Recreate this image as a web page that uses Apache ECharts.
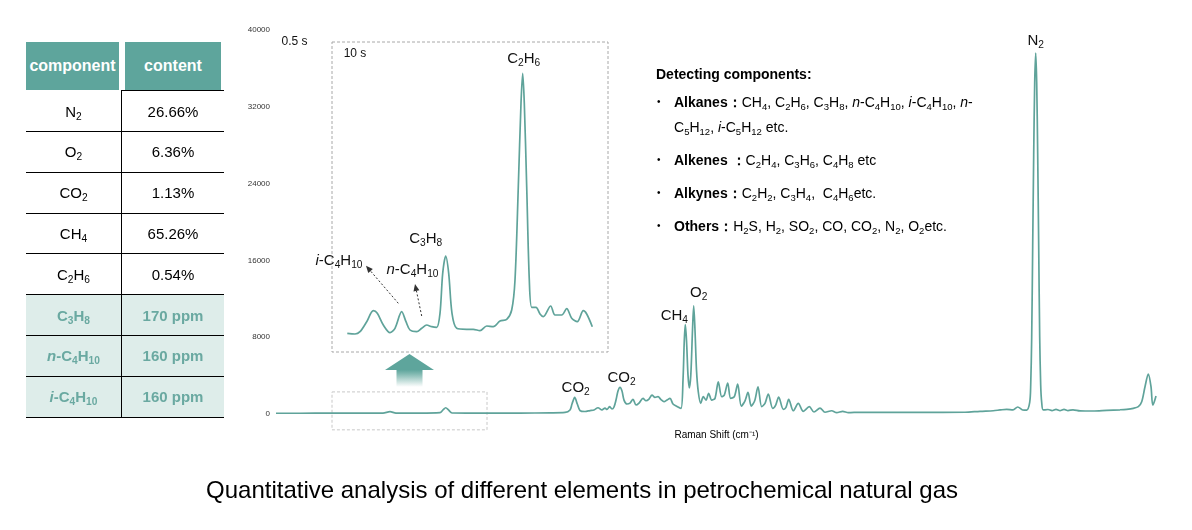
<!DOCTYPE html>
<html>
<head>
<meta charset="utf-8">
<script src="https://cdn.jsdelivr.net/npm/echarts/dist/echarts.min.js"></script>
<style>
  body { margin: 0; background: #fff; font-family: "Liberation Sans", Arial, sans-serif; }
  #wrap { position: relative; width: 1192px; height: 530px; overflow: hidden; background: #fff; }
  #chart { position: absolute; left: 0; top: 0; width: 1192px; height: 530px; }
  sub { font-size: 0.68em; vertical-align: -0.32em; line-height: 0; }
  .lbl { position: absolute; white-space: nowrap; transform: translate(-50%, -50%); font-size: 15px; color: #111; line-height: 1; }
  .small { font-size: 12px; }
  /* table */
  .th { position: absolute; top: 42px; height: 48px; background: #5ea59c; color: #fff; font-weight: bold; font-size: 16px;
        display: flex; align-items: center; justify-content: center; }
  .row { position: absolute; left: 26px; width: 198px; height: 40px; border-bottom: 1px solid #000; }
  .row.hl { background: #deedea; }
  .cell { position: absolute; top: 0; height: 40px; display: flex; align-items: center; justify-content: center; font-size: 15px; color: #000; }
  .cell span { white-space: nowrap; }
  .row.hl .cell { color: #6aa9a1; font-weight: bold; }
  .vdiv { position: absolute; left: 121px; top: 90px; width: 1px; height: 327px; background: #000; }
  /* detecting block */
  #detect { position: absolute; left: 656px; top: 64px; font-size: 14px; color: #000; }
  #detect .ttl { font-weight: bold; line-height: 20px; }
  #detect ul { list-style: none; margin: 6px 0 0 0; padding: 0; }
  #detect li { position: relative; padding-left: 18px; line-height: 24.6px; margin-bottom: 8.5px; white-space: nowrap; }
  #detect li::before { content: "\2022"; position: absolute; left: 1px; top: 0; font-size: 10px; }
  #title { position: absolute; left: 0; width: 1164px; top: 476px; text-align: center; font-size: 24px; color: #000; line-height: 28px; }
</style>
</head>
<body>
<div id="wrap">
  <div id="chart"></div>
</div>
<script>
// ---------------- DATA ----------------
// 0.5 s spectrum: [Raman shift (relative units), intensity]
const mainSpectrum = [
  [0,80],[24,80],[54,100],[84,100],[107,100],[114,240],[120,100],[144,100],[164,150],[167,420],[169.7,650],[172.5,420],[176,110],
  [204,100],[244,100],[274,120],[289,160],[294,420],[296,1040],[298.7,1735],[301.3,1040],[304,360],[309,260],[314,360],[318,420],
  [322,650],[326,420],[329,620],[331,470],[333.5,760],[336,520],[338,730],[340,1450],[342,2390],[344,2770],[346,2390],[348,1450],
  [351,1040],[354,1140],[357,1530],[360,935],[363,1140],[367,1630],[370,1380],[373,1560],[376,1970],[379,1735],[382,1800],[385,1500],
  [388,1280],[391,1450],[394,1630],[397,1040],[401,780],[405,590],[407,3530],[408.3,7690],[409.3,9320],[410.5,7690],[412,4050],
  [413.3,2720],[414.8,4050],[416.5,8730],[417.7,11270],[419,8730],[420.5,4570],[422.3,2290],[424.7,1110],[427.3,1800],[430,1450],
  [432.7,2150],[435.7,1450],[439,1630],[442.3,3360],[445.7,1800],[448.3,1970],[451.7,3230],[454.7,1630],[458.3,1800],[461.7,3120],
  [465.3,830],[469,1380],[472,2250],[475.3,830],[478.7,1380],[482,2840],[485.7,760],[489,1110],[492.3,2080],[496.7,590],[499.7,935],
  [502.7,1770],[507.3,490],[510,700],[512.7,1530],[517.3,340],[522.3,1110],[527.3,280],[533.3,760],[538,210],[544,620],[549,180],
  [555.7,340],[560.7,140],[566.7,280],[572.3,140],[584,180],[604,160],[644,160],[689,180],[704,280],[717.3,340],[724,420],[730.7,490],
  [737,420],[741.7,730],[746.7,420],[750.7,400],[753.7,1200],[754.7,3000],[755.7,8000],[756.7,17500],[757.7,27000],[758.7,34500],
  [759.7,37600],[760.7,34500],[761.7,27000],[762.7,17500],[763.7,8000],[764.7,3000],[765.7,1200],[767.2,420],[772,470],[776,360],
  [780,490],[784,360],[788,490],[792,360],[797,440],[804,330],[817,310],[830.7,380],[844,440],[850.7,490],[857.3,590],[862.3,760],
  [865.7,1280],[869,2840],[872.3,4160],[875,2840],[876.7,935],[878.3,1280],[880,1870]
];
// 10 s spectrum (zoomed region): [relative shift, intensity]
const insetSpectrum = [
  [15.3,3740],[23,3600],[28,4060],[34.7,6060],[41.3,8260],[45.3,7740],[51.3,5400],[58,3860],[63,4740],[69.7,8060],[74,6060],
  [78,4400],[84.7,4060],[89.7,4740],[94.7,5400],[99.7,5060],[104.7,4940],[108,7740],[110.7,15740],[113.7,19200],[116.7,15740],
  [120,7740],[124.7,4740],[134.7,4540],[141.3,4540],[148,4260],[154.7,5200],[161.3,5060],[168,6200],[174.7,6540],[179.7,8400],
  [183,14400],[186.3,33060],[189,49740],[190.7,55740],[192.3,49740],[194.7,33060],[197.3,14400],[199.7,8940],[204,8940],[208,7600],
  [211.3,7060],[218.7,9200],[223,7400],[229.7,7400],[234.7,8660],[239.7,6740],[245.3,6060],[251.3,8260],[254.7,7600],[260.3,5060]
];
const yTicks = [0, 8000, 16000, 24000, 32000, 40000];
const zoomRange = [56, 211];      // region of the 0.5 s spectrum shown in the inset

const tableHeader = ['component', 'content'];
const componentNames = ['N<sub>2</sub>', 'O<sub>2</sub>', 'CO<sub>2</sub>', 'CH<sub>4</sub>', 'C<sub>2</sub>H<sub>6</sub>',
  'C<sub>3</sub>H<sub>8</sub>', '<i>n</i>-C<sub>4</sub>H<sub>10</sub>', '<i>i</i>-C<sub>4</sub>H<sub>10</sub>'];
const componentContents = ['26.66%', '6.36%', '1.13%', '65.26%', '0.54%', '170 ppm', '160 ppm', '160 ppm'];
const traceComponent = [false, false, false, false, false, true, true, true];

const detectTitle = 'Detecting components:';
const detectGroups = ['Alkanes：', 'Alkenes ：', 'Alkynes：', 'Others：'];
const detectMembers = [
  'CH<sub>4</sub>, C<sub>2</sub>H<sub>6</sub>, C<sub>3</sub>H<sub>8</sub>, <i>n</i>-C<sub>4</sub>H<sub>10</sub>, <i>i</i>-C<sub>4</sub>H<sub>10</sub>, <i>n</i>-<br>C<sub>5</sub>H<sub>12</sub>, <i>i</i>-C<sub>5</sub>H<sub>12</sub> etc.',
  'C<sub>2</sub>H<sub>4</sub>, C<sub>3</sub>H<sub>6</sub>, C<sub>4</sub>H<sub>8</sub> etc',
  'C<sub>2</sub>H<sub>2</sub>, C<sub>3</sub>H<sub>4</sub>,&nbsp; C<sub>4</sub>H<sub>6</sub>etc.',
  'H<sub>2</sub>S, H<sub>2</sub>, SO<sub>2</sub>, CO, CO<sub>2</sub>, N<sub>2</sub>, O<sub>2</sub>etc.'
];
const chartTitle = 'Quantitative analysis of different elements in petrochemical natural gas';
const xAxisName = 'Raman Shift (cm⁻¹)';
const mainExposure = '0.5 s';
const insetExposure = '10 s';
const peakLabels = [
  { html: 'N<sub>2</sub>', grid: 0, at: [759.7, 37600], dx: 0, dy: -14 },
  { html: 'O<sub>2</sub>', grid: 0, at: [417.7, 11270], dx: 5, dy: -14.5 },
  { html: 'CH<sub>4</sub>', grid: 0, at: [409.3, 9320], dx: -11, dy: -11 },
  { html: 'CO<sub>2</sub>', grid: 0, at: [344, 2770], dx: 1.5, dy: -11 },
  { html: 'CO<sub>2</sub>', grid: 0, at: [298.7, 1735], dx: 1, dy: -11 },
  { html: 'C<sub>2</sub>H<sub>6</sub>', grid: 1, at: [190.7, 55740], dx: 1, dy: -16 },
  { html: 'C<sub>3</sub>H<sub>8</sub>', grid: 1, at: [113.7, 19200], dx: -20, dy: -19 },
  { html: '<i>i</i>-C<sub>4</sub>H<sub>10</sub>', grid: 1, at: [69.7, 8060], dx: -62.7, dy: -52.7 },
  { html: '<i>n</i>-C<sub>4</sub>H<sub>10</sub>', grid: 1, at: [89.7, 4740], dx: -9.2, dy: -60.3 }
];
// annotation arrows in inset data units: [from, to]
const annotArrows = [
  [[66.3, 9740], [34, 17260]],
  [[89.7, 7200], [83, 13600]]
];

// ---------------- CHART ----------------
const LINE = '#5fa39a';
const chart = echarts.init(document.getElementById('chart'));
const option = {
  animation: false,
  grid: [
    { left: 276, right: 35, top: 30, bottom: 116 },
    { left: 332, top: 42, width: 276, height: 310 }
  ],
  xAxis: [
    { type: 'value', gridIndex: 0, min: 0, max: 881,
      axisLine: { show: false }, axisTick: { show: false }, axisLabel: { show: false }, splitLine: { show: false },
      name: xAxisName, nameLocation: 'middle', nameGap: 16,
      nameTextStyle: { fontSize: 10, color: '#000', fontFamily: 'Liberation Sans' } },
    { type: 'value', gridIndex: 1, min: 0, max: 276, show: false }
  ],
  yAxis: [
    { type: 'value', gridIndex: 0, min: yTicks[0], max: yTicks[yTicks.length - 1], interval: 8000,
      axisLine: { show: false }, axisTick: { show: false }, splitLine: { show: false },
      axisLabel: { fontSize: 8, color: '#333', margin: 6, fontFamily: 'Liberation Sans',
        formatter: function (v) { return String(v); } } },
    { type: 'value', gridIndex: 1, min: 0, max: 62000, show: false }
  ],
  series: [
    { type: 'line', xAxisIndex: 0, yAxisIndex: 0, data: mainSpectrum, showSymbol: false, smooth: 0.3,
      lineStyle: { color: LINE, width: 1.7 }, itemStyle: { color: LINE } },
    { type: 'line', xAxisIndex: 1, yAxisIndex: 1, data: insetSpectrum, showSymbol: false, smooth: 0.3,
      lineStyle: { color: LINE, width: 1.7 }, itemStyle: { color: LINE } }
  ]
};
chart.setOption(option);

const P = (gi, x, y) => chart.convertToPixel({ gridIndex: gi }, [x, y]);

// boxes and arrows
const insetTL = P(1, 0, 62000), insetBR = P(1, 276, 0);
const zoomTL = P(0, zoomRange[0], 2300), zoomBR = P(0, zoomRange[1], -1650);
const graphics = [];
graphics.push({ type: 'rect', shape: { x: insetTL[0], y: insetTL[1], width: insetBR[0] - insetTL[0], height: insetBR[1] - insetTL[1] },
  style: { fill: 'none', stroke: '#a8a8a8', lineWidth: 1, lineDash: [3, 2] }, z: 1 });
graphics.push({ type: 'rect', shape: { x: zoomTL[0], y: zoomTL[1], width: zoomBR[0] - zoomTL[0], height: zoomBR[1] - zoomTL[1] },
  style: { fill: 'none', stroke: '#c8c8c8', lineWidth: 1, lineDash: [3, 2] }, z: 1 });
// big up arrow between the two boxes
const cx = (zoomTL[0] + zoomBR[0]) / 2;
const aTop = insetBR[1] + 2, aBot = zoomTL[1] - 5, headH = 16;
graphics.push({ type: 'polygon', shape: { points: [
    [cx, aTop], [cx + 24.5, aTop + headH], [cx + 13, aTop + headH], [cx + 13, aBot],
    [cx - 13, aBot], [cx - 13, aTop + headH], [cx - 24.5, aTop + headH]] },
  style: { fill: new echarts.graphic.LinearGradient(0, 0, 0, 1, [
    { offset: 0, color: '#5ea59c' }, { offset: 0.48, color: '#5ea59c' }, { offset: 0.6, color: '#7fb8b0' }, { offset: 1, color: 'rgba(255,255,255,1)' }]) }, z: 2 });
// dashed annotation arrows
annotArrows.forEach(function (a) {
  const p0 = P(1, a[0][0], a[0][1]), p1 = P(1, a[1][0], a[1][1]);
  const dx = p1[0] - p0[0], dy = p1[1] - p0[1], L = Math.sqrt(dx * dx + dy * dy);
  const ux = dx / L, uy = dy / L, nx = -uy, ny = ux;
  const hl = 7, hw = 3;
  const bx = p1[0] - ux * hl, by = p1[1] - uy * hl;
  graphics.push({ type: 'line', shape: { x1: p0[0], y1: p0[1], x2: bx, y2: by },
    style: { stroke: '#333', lineWidth: 1, lineDash: [2, 2] }, z: 3 });
  graphics.push({ type: 'polygon', shape: { points: [[p1[0], p1[1]], [bx + nx * hw, by + ny * hw], [bx - nx * hw, by - ny * hw]] },
    style: { fill: '#333' }, z: 3 });
});
chart.setOption({ graphic: graphics });

// ---------------- HTML TEXT OVERLAYS ----------------
const wrap = document.getElementById('wrap');
function addDiv(cls, html, css) {
  const d = document.createElement('div');
  d.className = cls; d.innerHTML = html;
  Object.assign(d.style, css || {});
  wrap.appendChild(d);
  return d;
}
peakLabels.forEach(function (l) {
  const p = P(l.grid, l.at[0], l.at[1]);
  addDiv('lbl', l.html, { left: (p[0] + l.dx) + 'px', top: (p[1] + l.dy) + 'px' });
});
const mainTL = P(0, 0, 40000);
addDiv('lbl small', mainExposure, { left: (mainTL[0] + 18.5) + 'px', top: (mainTL[1] + 11) + 'px' });
addDiv('lbl small', insetExposure, { left: (insetTL[0] + 23) + 'px', top: (insetTL[1] + 11) + 'px' });

// table
addDiv('th', '<span>' + tableHeader[0] + '</span>', { left: '26px', width: '93px' });
addDiv('th', '<span>' + tableHeader[1] + '</span>', { left: '125px', width: '96px' });
componentNames.forEach(function (n, i) {
  const r = addDiv('row' + (traceComponent[i] ? ' hl' : ''), '', { top: (91 + i * 40.8) + 'px' });
  const c1 = document.createElement('div'); c1.className = 'cell'; c1.style.left = '0px'; c1.style.width = '95px';
  c1.innerHTML = '<span>' + n + '</span>';
  const c2 = document.createElement('div'); c2.className = 'cell'; c2.style.left = '96px'; c2.style.width = '102px';
  c2.innerHTML = '<span>' + componentContents[i] + '</span>';
  r.appendChild(c1); r.appendChild(c2);
});
addDiv('row', '', { top: '50px', height: '40px', borderBottom: '1px solid #000', left: '121px', width: '103px', background: 'transparent', zIndex: 0 });
addDiv('vdiv', '', {});

// detecting components
let li = '';
detectGroups.forEach(function (g, i) { li += '<li><b>' + g + '</b>' + detectMembers[i] + '</li>'; });
addDiv('', '<div class="ttl">' + detectTitle + '</div><ul>' + li + '</ul>', {}).id = 'detect';

addDiv('', chartTitle, {}).id = 'title';
</script>
</body>
</html>
